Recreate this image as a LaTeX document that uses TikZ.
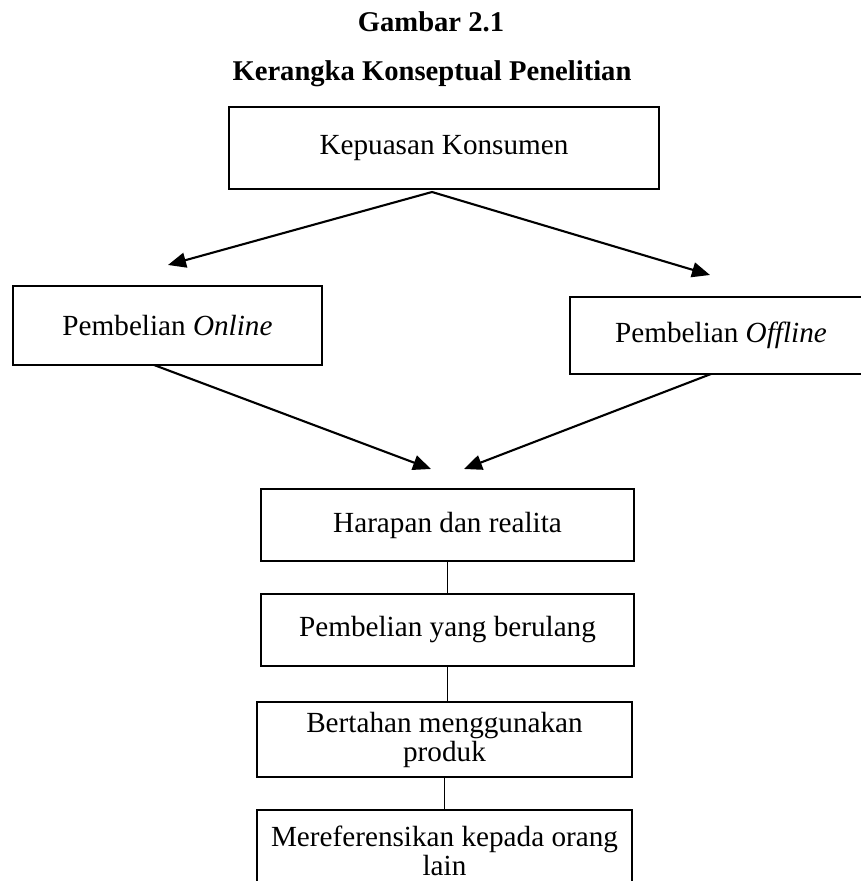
\documentclass[tikz,border=0pt]{standalone}
\usepackage{fontspec}
\setmainfont{Liberation Serif}
\usetikzlibrary{arrows.meta}
\begin{document}
\begin{tikzpicture}[x=0.5pt,y=-0.5pt,
  box/.style={draw, line width=1pt, inner sep=0pt, align=center, font=\fontsize{14.6}{14.5}\selectfont},
  ttl/.style={font=\fontsize{14.3}{17}\selectfont\bfseries, anchor=base},
  conn/.style={line width=1.05pt, -{Triangle[length=9pt,width=7.5pt]}},
  link/.style={line width=0.5pt}]
\useasboundingbox (0,0) rectangle (860,881);
\node[ttl] (t1) at (431,32) {Gambar 2.1};
\node[ttl] (t2) at (432,81) {Kerangka Konseptual Penelitian};
\node[box, minimum width=215pt, minimum height=41pt] (kk) at (444,148) {Kepuasan Konsumen};
\node[box, minimum width=154.5pt, minimum height=39.5pt] (on) at (167.5,325.5) {Pembelian \textit{Online}};
\node[box, minimum width=151pt, minimum height=38.5pt] (off) at (721,335.5) {Pembelian \textit{Offline}};
\node[box, minimum width=186.5pt, minimum height=36pt] (hr) at (447.5,525) {Harapan dan realita};
\node[box, minimum width=186.5pt, minimum height=36pt] (py) at (447.5,630) {Pembelian yang berulang};
\node[box, minimum width=187.5pt, minimum height=37.5pt] (bm) at (444.5,739.5) {Bertahan menggunakan\\produk};
\node[box, minimum width=187.5pt, minimum height=41pt] (mk) at (444.5,851) {Mereferensikan kepada orang\\lain};
\coordinate (kkout) at (432,192);
\coordinate (onin) at (168,265);
\coordinate (offin) at (710,275);
\coordinate (onout) at (154,365);
\coordinate (offout) at (711,374);
\coordinate (hin1) at (431,469);
\coordinate (hin2) at (464,469);
\draw[conn] (kkout) -- (onin);
\draw[conn] (kkout) -- (offin);
\draw[conn] (onout) -- (hin1);
\draw[conn] (offout) -- (hin2);
\draw[link] (hr.south) -- (py.north);
\draw[link] (py.south) -- (py.south |- bm.north);
\draw[link] (bm.south) -- (mk.north);
\end{tikzpicture}
\end{document}
